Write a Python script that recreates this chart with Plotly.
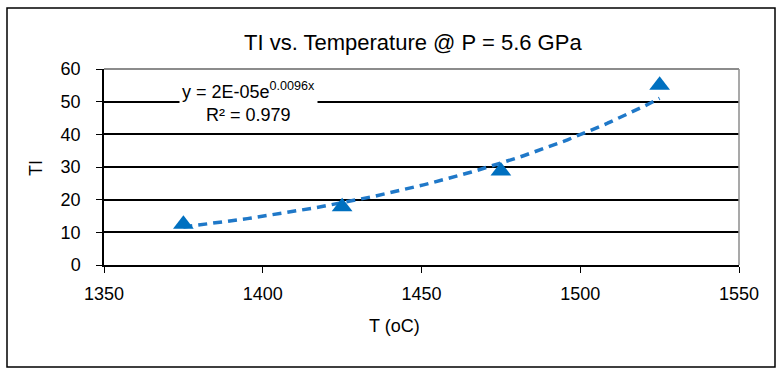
import numpy as np
import plotly.graph_objects as go

temps = [1375, 1425, 1475, 1525]
ti_vals = [12.5, 17.8, 28.8, 55.0]
x_ticks = [1350, 1400, 1450, 1500, 1550]
y_ticks = [0, 10, 20, 30, 40, 50, 60]

# Exponential trendline (least squares on ln y), as Excel does
b, ln_a = np.polyfit(np.array(temps, float), np.log(np.array(ti_vals, float)), 1)
tx = np.linspace(min(temps), max(temps), 120)
ty = np.exp(ln_a + b * tx)

FONT = "Liberation Sans, Arial, sans-serif"
BLUE = "#0070C0"

L, R, T, B = 104, 739, 69, 265
W, H = 780, 369


def px(xp):
    return (xp - L) / (R - L)


def py(yp):
    return (B - yp) / (B - T)


fig = go.Figure()
fig.add_trace(go.Scatter(x=tx, y=ty, mode="lines",
                         line=dict(color="#1F78C8", width=3.5, dash="9px,6px"),
                         hoverinfo="skip", showlegend=False))
fig.add_trace(go.Scatter(x=temps, y=ti_vals, mode="markers",
                         marker=dict(symbol="triangle-up", size=18, color=BLUE),
                         showlegend=False))

fig.update_layout(
    width=W, height=H,
    margin=dict(l=L, r=W - R, t=T, b=H - B),
    paper_bgcolor="white", plot_bgcolor="white",
    font=dict(family=FONT, size=18, color="black"),
    xaxis=dict(range=[1350, 1550], tickvals=x_ticks, ticks="outside", ticklen=6,
               tickcolor="black", showline=True, linecolor="black", linewidth=1.5,
               showgrid=False, zeroline=False, ticklabelstandoff=6,
               tickfont=dict(size=18)),
    yaxis=dict(range=[0, 60], tickvals=y_ticks, ticks="outside", ticklen=6,
               tickcolor="black", showline=True, linecolor="black", linewidth=1.5,
               showgrid=True, gridcolor="black", gridwidth=1.5, zeroline=False,
               ticklabelstandoff=12, tickfont=dict(size=18)),
    shapes=[
        dict(type="line", xref="paper", yref="paper", x0=0, x1=1, y0=1, y1=1,
             line=dict(color="#8C8C8C", width=2), layer="above"),
        dict(type="line", xref="paper", yref="paper", x0=1, x1=1, y0=0, y1=1,
             line=dict(color="#8C8C8C", width=1.5), layer="above"),
        dict(type="rect", xref="paper", yref="paper",
             x0=px(7), x1=px(775), y0=py(367), y1=py(8),
             line=dict(color="black", width=1.5)),
    ],
    annotations=[
        dict(text="TI vs. Temperature @ P = 5.6 GPa", xref="paper", yref="paper",
             x=px(413), y=py(42), xanchor="center", yanchor="middle",
             showarrow=False, font=dict(size=22)),
        dict(text="T (oC)", xref="paper", yref="paper",
             x=px(394), y=py(326), xanchor="center", yanchor="middle",
             showarrow=False, font=dict(size=18)),
        dict(text="TI", xref="paper", yref="paper", textangle=-90,
             x=px(36), y=py(168), xanchor="center", yanchor="middle",
             showarrow=False, font=dict(size=18)),
        dict(text="y = 2E-05e<sup>0.0096x</sup><br>R² = 0.979",
             x=1395.5, y=50.0, xref="x", yref="y", xanchor="center", yanchor="middle",
             showarrow=False, align="center",
             bgcolor="white", font=dict(size=18), borderpad=2),
    ],
)

fig.write_html("out.html")
